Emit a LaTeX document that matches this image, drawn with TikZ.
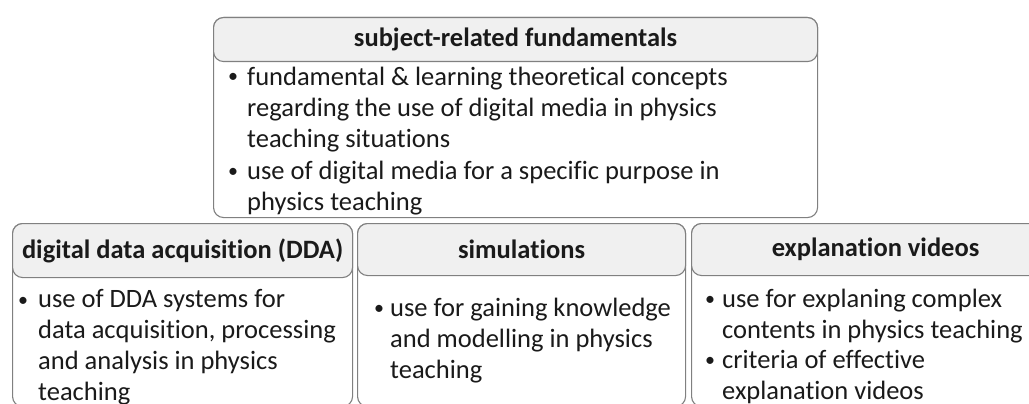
\documentclass[tikz,border=0pt]{standalone}
\usepackage{fontspec}
\setmainfont{Carlito}[Ligatures=NoCommon]
\definecolor{edge}{HTML}{808080}
\definecolor{hfill}{HTML}{F0F0F0}
\definecolor{ink}{HTML}{1A1A1A}
\tikzset{
  outerbox/.style={draw=edge, fill=white, line width=1.1pt, rounded corners=10pt, inner sep=0pt},
  hdrbox/.style={draw=edge, fill=hfill, line width=1.1pt, rounded corners=10pt, inner sep=0pt,
    text=ink, font=\fontsize{26.5}{30}\selectfont\bfseries},
  body/.style={anchor=base west, inner sep=0pt, align=left, text=ink,
    font=\fontsize{26.5}{31}\selectfont},
  bull/.style={anchor=base west, inner sep=0pt, text=ink, yshift=2pt, xshift=2pt,
    font=\fontsize{20}{24}\selectfont}
}
\begin{document}
\begin{tikzpicture}[x=1pt,y=-1pt]
\useasboundingbox (0,0) rectangle (1029,404);
% top box
\node[outerbox, minimum width=604pt, minimum height=200pt, anchor=north west] (top) at (213,17) {};
\node[hdrbox, minimum width=604pt, minimum height=44pt, anchor=north] (toph) at (top.north) {subject-related fundamentals};
\node[bull] (tb1) at (226,85) {•};
\node[body] (tt1) at (247,147) {fundamental \& learning theoretical concepts\\regarding the use of digital media in physics\\teaching situations};
\node[bull] (tb2) at (226,179) {•};
\node[body] (tt2) at (247,210) {use of digital media for a specific purpose in\\physics teaching};
% DDA box
\node[outerbox, minimum width=340pt, minimum height=183pt, anchor=north west] (dda) at (12,223) {};
\node[hdrbox, minimum width=340pt, minimum height=54pt, anchor=north] (ddah) at (dda.north) {digital data acquisition (DDA)};
\node[bull] (db1) at (16,308) {•};
\node[body] (dt1) at (38,400) {use of DDA systems for\\data acquisition, processing\\and analysis in physics\\teaching};
% simulations box
\node[outerbox, minimum width=328pt, minimum height=183pt, anchor=north west] (sim) at (357,223) {};
\node[hdrbox, minimum width=328pt, minimum height=52pt, anchor=north] (simh) at (sim.north) {simulations};
\node[bull] (sb1) at (372,316) {•};
\node[body] (st1) at (390,378) {use for gaining knowledge\\and modelling in physics\\teaching};
% explanation videos box
\node[outerbox, minimum width=368pt, minimum height=183pt, anchor=north west] (vid) at (691,223) {};
\node[hdrbox, minimum width=368pt, minimum height=52pt, anchor=north] (vidh) at (vid.north) {explanation videos};
\node[bull] (vb1) at (703,307) {•};
\node[body] (vt1) at (722,338) {use for explaning complex\\contents in physics teaching};
\node[bull] (vb2) at (703,368) {•};
\node[body] (vt2) at (722,399) {criteria of effective\\explanation videos};
\end{tikzpicture}
\end{document}
